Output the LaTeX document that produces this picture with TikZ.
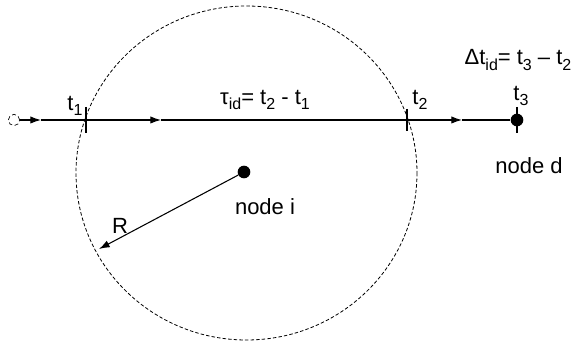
\documentclass[tikz,border=0pt]{standalone}
\usepackage{fontspec}
\setmainfont{Liberation Sans}
\usetikzlibrary{arrows.meta,positioning,decorations.markings}
\newcommand{\lowidx}[1]{\raisebox{-0.45ex}{\fontsize{12}{12}\selectfont #1}}
\tikzset{
  lbl/.style={font=\fontsize{16.5}{18}\selectfont,inner sep=0pt},
  dot/.style={circle,fill=black,minimum size=9.5pt,inner sep=0pt},
  opendot/.style={circle,draw,densely dashed,minimum size=8.5pt,inner sep=0pt,line width=0.5pt},
  rangecirc/.style={draw,dash pattern=on 2.6pt off 1.6pt,line width=0.6pt},
  flow/.style={line width=0.8pt},
  tip/.style={-{Latex[length=8pt,width=5.5pt]},line width=0.8pt},
  tick/.style={line width=0.8pt}
}
\begin{document}
\begin{tikzpicture}[x=0.75pt,y=-0.75pt]
  \useasboundingbox (0,0) rectangle (579,341);
  % range of node i
  \draw[rangecirc] (246.5,173) ellipse [x radius=170.5, y radius=167];

  \node[opendot] (src) at (14,120) {};
  \coordinate (t1) at (86,120);
  \coordinate (t2) at (407,120);
  \node[dot] (nd) at (517,120) {};
  \node[dot] (ni) at (244,172) {};
  \coordinate (redge) at (99,249);
  \coordinate (a1) at (41,120);
  \coordinate (a2) at (161,120);
  \coordinate (a3) at (462,120);

  % path towards node d
  \draw[tip] (src) -- (a1);
  \draw[flow] (a1) -- (t1);
  \draw[tip] (t1) -- (a2);
  \draw[flow] (a2) -- (t2);
  \draw[tip] (t2) -- (a3);
  \draw[flow] (a3) -- (nd);

  \draw[tick] (t1) ++(0,-13) -- ++(0,26);
  \draw[tick] (t2) ++(0,-11) -- ++(0,22);
  \draw[tick] (nd.center) ++(0,-13) -- ++(0,26);

  % radius
  \draw[tip] (ni) -- (redge);

  \node[lbl] (lt1) at (75,106) {t\lowidx{1}};
  \node[lbl] (lt2) at (420,100) {t\lowidx{2}};
  \node[lbl] (lt3) at (521,96) {t\lowidx{3}};
  \node[lbl] (ltau) at (265,100) {τ\lowidx{id}= t\lowidx{2} - t\lowidx{1}};
  \node[lbl] (ldelta) at (518,60) {Δt\lowidx{id}= t\lowidx{3} – t\lowidx{2}};
  \node[lbl] (lnd) at (529,166) {node d};
  \node[lbl] (lni) at (265,207) {node i};
  \node[lbl] (lr) at (120,226) {R};
\end{tikzpicture}
\end{document}
